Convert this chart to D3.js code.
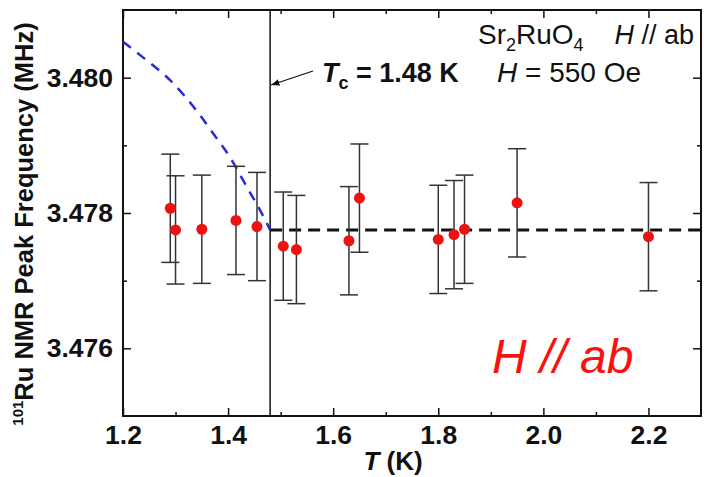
<!DOCTYPE html>
<html lang="en">
<head>
    <meta charset="UTF-8">
    <title>101Ru NMR Peak Frequency vs T</title>
    <script src="https://d3js.org/d3.v7.min.js"></script>
    <style>
        body { margin: 0; background: #fff; font-family: "Liberation Sans", Arial, sans-serif; }
        .tick text { font-family: "Liberation Sans", Arial, sans-serif; font-weight: bold; font-size: 26.5px; fill: #111; }
        .tick line { stroke: #111; stroke-width: 1.5; }
    </style>
</head>
<body>
    <svg id="chart" width="704" height="477"></svg>

    <script>
        // measured points
        const temps = [1.29, 1.30, 1.35, 1.415, 1.455, 1.505, 1.53, 1.63, 1.65, 1.80, 1.83, 1.85, 1.95, 2.20];
        const freqs = [3.47807, 3.47775, 3.47776, 3.47789, 3.47780, 3.47751, 3.47746, 3.47759, 3.47822,
                       3.47761, 3.47768, 3.47776, 3.47815, 3.47765];
        const errs  = [0.0008, 0.0008, 0.0008, 0.0008, 0.0008, 0.0008, 0.0008, 0.0008, 0.0008,
                       0.0008, 0.0008, 0.0008, 0.0008, 0.0008];

        // blue dashed curve below Tc
        const curveT = [1.20, 1.238, 1.29, 1.347, 1.372, 1.404, 1.436, 1.461, 1.48];
        const curveF = [3.48053, 3.48030, 3.47996, 3.47944, 3.47917, 3.47882, 3.47838, 3.47804, 3.47775];

        const tc = 1.48;
        const normalLevel = 3.47775;

        const xMajor = [1.2, 1.4, 1.6, 1.8, 2.0, 2.2];
        const xMinor = [1.3, 1.5, 1.7, 1.9, 2.1];
        const yMajor = [3.476, 3.478, 3.480];
        const yMinor = [3.477, 3.479];

        const svg = d3.select("#chart"),
              margin = { top: 10, right: 3, bottom: 61, left: 123 },
              width = 704 - margin.left - margin.right,
              height = 477 - margin.top - margin.bottom;

        const g = svg.append("g").attr("transform", `translate(${margin.left},${margin.top})`);

        const x = d3.scaleLinear().domain([1.2, 2.3]).range([0, width]);
        const y = d3.scaleLinear().domain([3.475, 3.481]).range([height, 0]);

        // axes, ticks pointing inward
        const axes = [
            [d3.axisBottom(x).tickValues(xMajor).tickSize(-8).tickPadding(9).tickFormat(d3.format(".1f")), `translate(0,${height})`],
            [d3.axisBottom(x).tickValues(xMinor).tickSize(-4).tickFormat(""), `translate(0,${height})`],
            [d3.axisTop(x).tickValues(xMajor).tickSize(-8).tickFormat(""), null],
            [d3.axisTop(x).tickValues(xMinor).tickSize(-4).tickFormat(""), null],
            [d3.axisLeft(y).tickValues(yMajor).tickSize(-8).tickPadding(10).tickFormat(d3.format(".3f")), null],
            [d3.axisLeft(y).tickValues(yMinor).tickSize(-4).tickFormat(""), null],
            [d3.axisRight(y).tickValues(yMajor).tickSize(-8).tickFormat(""), `translate(${width},0)`],
            [d3.axisRight(y).tickValues(yMinor).tickSize(-4).tickFormat(""), `translate(${width},0)`]
        ];
        axes.forEach(([ax, tr]) => {
            const a = g.append("g").call(ax);
            if (tr) a.attr("transform", tr);
            a.select(".domain").remove();
        });

        // frame
        g.append("rect")
            .attr("width", width).attr("height", height)
            .attr("fill", "none").attr("stroke", "#111").attr("stroke-width", 2);

        // Tc vertical line
        g.append("line")
            .attr("x1", x(tc)).attr("x2", x(tc))
            .attr("y1", 0).attr("y2", height)
            .attr("stroke", "#111").attr("stroke-width", 1.5);

        // normal state level
        g.append("line")
            .attr("x1", x(tc)).attr("x2", width)
            .attr("y1", y(normalLevel)).attr("y2", y(normalLevel))
            .attr("stroke", "#111").attr("stroke-width", 3)
            .attr("stroke-dasharray", "12,7");

        // blue dashed curve
        const curvePts = curveT.map((t, i) => [t, curveF[i]]);
        g.append("path")
            .datum(curvePts)
            .attr("fill", "none")
            .attr("stroke", "#2a2ad8")
            .attr("stroke-width", 2.5)
            .attr("stroke-dasharray", "10,8")
            .attr("d", d3.line().x(d => x(d[0])).y(d => y(d[1])).curve(d3.curveMonotoneX));

        // error bars
        const pts = temps.map((t, i) => ({ t, f: freqs[i], e: errs[i] }));
        const eb = g.append("g").attr("stroke", "#333").attr("stroke-width", 1.5);
        pts.forEach(d => {
            eb.append("line").attr("x1", x(d.t)).attr("x2", x(d.t))
                .attr("y1", y(d.f - d.e)).attr("y2", y(d.f + d.e));
            [d.f - d.e, d.f + d.e].forEach(v => {
                eb.append("line").attr("x1", x(d.t) - 9).attr("x2", x(d.t) + 9)
                    .attr("y1", y(v)).attr("y2", y(v));
            });
        });

        g.selectAll(".dot")
            .data(pts)
            .enter().append("circle")
            .attr("class", "dot")
            .attr("cx", d => x(d.t))
            .attr("cy", d => y(d.f))
            .attr("r", 5.5)
            .attr("fill", "#ee1111");

        // arrow to Tc line
        svg.append("defs").append("marker")
            .attr("id", "arrow").attr("viewBox", "0 0 10 10")
            .attr("refX", 10).attr("refY", 5)
            .attr("markerWidth", 7).attr("markerHeight", 7)
            .attr("orient", "auto")
            .append("path").attr("d", "M0,1 L10,5 L0,9 Z").attr("fill", "#111");

        svg.append("line")
            .attr("x1", 313).attr("y1", 71)
            .attr("x2", margin.left + x(tc) + 1).attr("y2", 85)
            .attr("stroke", "#111").attr("stroke-width", 1.2)
            .attr("marker-end", "url(#arrow)");

        // annotations
        const tcText = svg.append("text")
            .attr("x", 322).attr("y", 82)
            .attr("font-size", 27).attr("font-weight", "bold").attr("fill", "#111");
        tcText.append("tspan").attr("font-style", "italic").text("T");
        tcText.append("tspan").attr("font-size", 18).attr("dy", 7).text("c");
        tcText.append("tspan").attr("dy", -7).text(" = 1.48 K");

        const mat = svg.append("text")
            .attr("x", 478).attr("y", 44)
            .attr("font-size", 28).attr("fill", "#111");
        mat.append("tspan").text("Sr");
        mat.append("tspan").attr("font-size", 18).attr("dy", 7).text("2");
        mat.append("tspan").attr("dy", -7).text("RuO");
        mat.append("tspan").attr("font-size", 18).attr("dy", 7).text("4");

        const dir = svg.append("text")
            .attr("x", 694).attr("y", 44)
            .attr("text-anchor", "end")
            .attr("font-size", 27).attr("fill", "#111");
        dir.append("tspan").attr("font-style", "italic").text("H");
        dir.append("tspan").text(" // ab");

        const field = svg.append("text")
            .attr("x", 497).attr("y", 82)
            .attr("font-size", 28).attr("fill", "#111");
        field.append("tspan").attr("font-style", "italic").text("H");
        field.append("tspan").text(" = 550 Oe");

        svg.append("text")
            .attr("x", 492).attr("y", 373)
            .attr("font-size", 48).attr("font-style", "italic")
            .attr("fill", "#ff1010")
            .text("H // ab");

        // axis titles
        const xl = svg.append("text")
            .attr("x", 393).attr("y", 470)
            .attr("text-anchor", "middle")
            .attr("font-size", 26).attr("font-weight", "bold").attr("fill", "#111");
        xl.append("tspan").attr("font-style", "italic").text("T");
        xl.append("tspan").text(" (K)");

        const yl = svg.append("text")
            .attr("transform", "translate(33,224) rotate(-90)")
            .attr("text-anchor", "middle")
            .attr("font-size", 25.5).attr("font-weight", "bold").attr("fill", "#111");
        yl.append("tspan").attr("font-size", 15).attr("dy", -10).text("101");
        yl.append("tspan").attr("dy", 10).text("Ru NMR Peak Frequency (MHz)");
    </script>
</body>
</html>
